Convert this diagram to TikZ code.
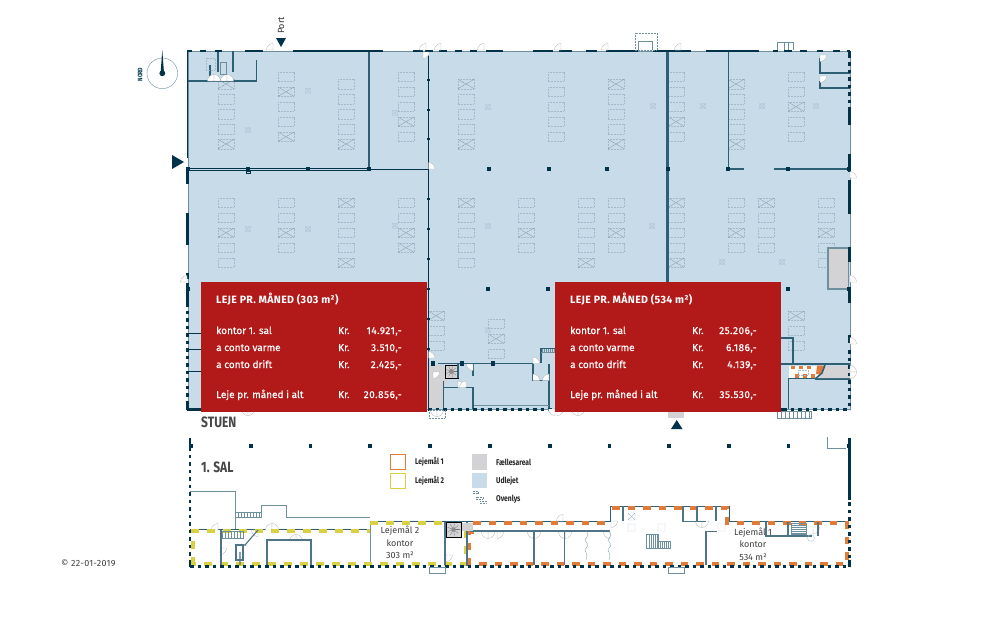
\documentclass[tikz,border=0pt]{standalone}
\usepackage{fontspec}
\setmainfont{Fira Sans}
\newfontfamily\narrowf[FakeStretch=0.8]{Fira Sans}
\definecolor{bluefill}{HTML}{C7DBE9}
\definecolor{wallc}{HTML}{003349}
\definecolor{tealc}{HTML}{2D5F75}
\definecolor{roomc}{HTML}{4F7485}
\definecolor{fixc}{HTML}{A3BBC9}
\definecolor{redbox}{HTML}{B21A1A}
\definecolor{grayfill}{HTML}{D3D3D5}
\definecolor{orangec}{HTML}{E07B3A}
\definecolor{yellowc}{HTML}{D9D043}
\definecolor{thinc}{HTML}{6E8F9E}
\tikzset{
  wall/.style={draw=wallc,line width=2.6pt},
  iwall/.style={draw=tealc,line width=1.5pt},
  rwall/.style={draw=roomc,line width=1.1pt},
  twall/.style={draw=wallc,line width=1pt},
  thin wall/.style={draw=thinc,line width=.7pt},
  dashwall/.style={draw=wallc,line width=2.4pt,dash pattern=on 3.5pt off 4pt},
  fix/.style={draw=fixc,line width=.4pt,dash pattern=on 1pt off .5pt},
  doorst/.style={draw=black!30,line width=.3pt,fill=white},
  colm/.style={fill=wallc,draw=none},
  yel/.style={draw=yellowc,line width=4pt,dash pattern=on 8pt off 8pt},
  ora/.style={draw=orangec,line width=4pt,dash pattern=on 7.5pt off 8pt},
  rowtxt/.style={text=white,anchor=base west,font=\fontsize{10}{10}\selectfont\addfontfeature{FakeBold=0.4},inner sep=0},
  rowr/.style={text=white,anchor=base east,font=\fontsize{10}{10}\selectfont\addfontfeature{FakeBold=0.4,LetterSpace=5},inner sep=0},
  headtxt/.style={text=white,anchor=base west,font=\fontsize{10.6}{10}\selectfont\bfseries\addfontfeature{LetterSpace=3},inner sep=0},
  legtxt/.style={anchor=west,text=black!85,font=\fontsize{8.4}{8}\selectfont\narrowf\bfseries,inner sep=0},
  floortxt/.style={anchor=west,text=black!72,font=\fontsize{15}{16}\selectfont\narrowf\bfseries,inner sep=0},
  roomtxt/.style={align=center,text=black!75,font=\fontsize{9}{12.6}\selectfont,inner sep=0},
}
\newcommand{\fx}[2]{\draw[fix] (#1-8,#2-4.7) rectangle (#1+8,#2+4.7);}
\newcommand{\fxc}[2]{\draw[fix,draw=fixc!80!black] (#1-8,#2-4.7) -- (#1+8,#2+4.7) (#1-8,#2+4.7) -- (#1+8,#2-4.7);}
\newcommand{\sm}[2]{\draw[fix] (#1-2.5,#2-2.5) rectangle (#1+2.5,#2+2.5) (#1-2.5,#2-2.5) -- (#1+2.5,#2+2.5) (#1-2.5,#2+2.5) -- (#1+2.5,#2-2.5);}
\newcommand{\cm}[2]{\fill[colm] (#1-1.8,#2-2.2) rectangle (#1+1.8,#2+2.2);}
% door: corner x,y, start angle (image sense: 0 right, 90 down, 180 left, 270 up), sweeps +90
\newcommand{\dr}[3]{\draw[doorst,shift={(#1,#2)}] (0,0) -- (#3:6.5) arc[start angle=#3,delta angle=90,radius=6.5] -- cycle;}
\begin{document}
\begin{tikzpicture}[x=1pt,y=-1pt]
\useasboundingbox (0,0) rectangle (1000,641);
\fill[white] (0,0) rectangle (1000,641);
% ---- ground floor ----
\fill[bluefill] (188,51) rectangle (850,409);
\draw[thin wall] (188,51) rectangle (850,409);
% light fixtures: upper
\foreach \x/\c in {286/{91.7,136.7},406/{121.7},556/{},676/{121.7},796/{106.7}}{
  \foreach \y in {76.7,91.7,106.7,121.7,136.7}{\fx{\x}{\y}}
  \foreach \y in \c {\fxc{\x}{\y}}}
\foreach \x/\c in {226/{84,144},346/{144},466/{84,144},616/{84,144},736/{84,144}}{
  \foreach \y in {84,99,114,129,144}{\fx{\x}{\y}}
  \foreach \y in \c {\fxc{\x}{\y}}}
% lower
\foreach \x/\c in {226/{232.7},346/{202.7,262.7},466/{202.7},586/{262.7},676/{202.7,262.7},826/{232.7}}{
  \foreach \y in {202.7,217.7,232.7,247.7,262.7}{\fx{\x}{\y}}
  \foreach \y in \c {\fxc{\x}{\y}}}
\foreach \x/\c in {286/{232.7},406/{232.7,247.7},526/{232.7},616/{232.7},736/{232.7},766/{202.7}}{
  \foreach \y in {202.7,217.7,232.7,247.7}{\fx{\x}{\y}}
  \foreach \y in \c {\fxc{\x}{\y}}}
% bottom
\foreach \y in {315.7,330.7,345.7}{\fx{436}{\y}\fx{796}{\y}}
\fxc{436}{315.7}\fxc{796}{315.7}
\fx{496}{323.7}\fx{496}{338.7}\fxc{496}{338.7}\fx{496}{353.7}
\foreach \x/\y in {308/90.7,248/130,395/112.7,488/107,653/106,703/106,762/106,816/106,248/229,308/229,395/225.7,488/226,652/226,722/262,782/262,488/330}{\sm{\x}{\y}}
% interior walls
\draw[draw=tealc,line width=2pt] (369,51) -- (369,169);
\draw[twall,double=bluefill,double distance=1.4pt,line width=.8pt] (188,169.5) -- (369,169.5);
\draw[twall] (369,169) -- (428,169);
\draw[draw=tealc,line width=1.3pt] (188,81) -- (256.5,81) (256.5,81) -- (256.5,60);
\draw[iwall] (233,51) -- (233,72) (218,51) -- (218,72) (210,65) -- (210,76);
\draw[twall] (428.5,55) -- (428.5,409);
\foreach \y in {80,110,139,199,229,259,289,319,349}{\fill[wallc] (427.3,\y-1) rectangle (429.7,\y+1);}
\draw[draw=tealc,line width=3pt] (667.5,51) -- (667.5,284);
\draw[iwall] (728.5,51) -- (728.5,169);
\draw[draw=tealc,line width=1.3pt] (728,169) -- (744,169) (774,169) -- (850,169);
\draw[iwall] (820,58) -- (820,73) -- (850,73) (820,81) -- (820,88) -- (850,88);
% grey core right
\draw[fill=grayfill,draw=thinc,line width=1.4pt] (828,248) rectangle (848.5,289);
% columns
\foreach \x in {188,248,308,369,489,549,607,668,728,788,849}{\cm{\x}{169}}
\foreach \x in {188,488,548,788,849}{\cm{\x}{289}}
\draw[draw=wallc,line width=.7pt] (246,171) rectangle (250,173.5);
% bottom-left core
\fill[grayfill] (429,365) rectangle (443,408);
\fill[grayfill] (443,365) -- (448,380) -- (443,388) -- cycle;
\draw[iwall] (438,363.5) -- (533,363.5);
\draw[fill=grayfill,draw=black,line width=1pt] (445,365) rectangle (458,378);
\foreach \a in {0,40,...,320}{\draw[draw=black!55,line width=.3pt] (451.5,371.5) -- +(\a:5.6);}
\draw[fill=black!45,draw=none] (451.5,371.5) circle (2.4);
\draw[iwall] (458,363.5) -- (458,378) (443,387.5) -- (473,387.5) -- (473,409) (443.5,381) -- (443.5,408) (473,363.5) -- (473,376);
\draw[iwall] (533,363.5) -- (533,380.5) -- (549,380.5) (549,363.5) -- (549,409);
\draw[thin wall] (474,405) -- (549,405);
\draw[iwall] (541,363) -- (541,348.5) -- (556,348.5);
\draw[thin wall] (541,352) -- (556,352);
\foreach \x in {542,544,546,548,550,552,554}{\draw[thin wall,line width=.3pt] (\x,349) -- (\x,352);}
\cm{433}{363.5}\cm{462}{363.5}\cm{493}{363.5}
% bottom-right
\draw[iwall] (781,338) -- (793,338) -- (793,364) (781,364) -- (850,364) (788,378.7) -- (818,378.7) (788.5,378) -- (788.5,409) (815,379) -- (850,379);
\fill[grayfill] (825,366) -- (850,366) -- (850,378) -- (815,378) -- cycle;
\fill[white] (789,365.5) rectangle (818,378);
\foreach \x in {791,799,807}{\fill[orangec] (\x,365.5) rectangle (\x+4,368.5);}
\foreach \x in {795,803,811}{\fill[orangec] (\x,374) rectangle (\x+4,378);}
\fill[orangec] (817,365.5) -- (825,365.5) -- (822,374) -- (816,374) -- cycle;
\draw[fix] (798,370) rectangle (808,375);
\draw[iwall] (825,365) -- (822,373) -- (815,379);
% outer walls
\draw[wall] (187,51) -- (192,51) (200,51) -- (206,51) (215,51) -- (222,51) (245,51) -- (263,51) (293,51) -- (383,51) (413,51) -- (423,51);
\foreach \a/\b in {425/433,439/447,455/462,470/477,486/503,533/553,559/572,586/597,606/638,653/691,706/759,773/778,784/792,800/807,817/823,833/840,847/850}{\draw[wall] (\a,51) -- (\b,51);}
\draw[draw=wallc,line width=1.6pt] (187.5,51) -- (187.5,158);
\draw[wall] (187.5,168) -- (187.5,184) (187.5,213) -- (187.5,245) (187.5,273) -- (187.5,279) (187.5,283) -- (187.5,303) (187.5,403) -- (187.5,410);
\draw[dashwall] (187.5,303) -- (187.5,403);
\draw[wall] (849.5,51) -- (849.5,58) (849.5,108) -- (849.5,125) (849.5,154) -- (849.5,172) (849.5,180) -- (849.5,214) (849.5,247) -- (849.5,262) (849.5,287) -- (849.5,303) (849.5,335) -- (849.5,343);
\draw[dashwall] (849.5,62) -- (849.5,108) (849.5,350) -- (849.5,410);
\draw[dashwall] (428,409.5) -- (783,409.5) (783,409.5) -- (850,409.5);
\draw[wall] (187,409.5) -- (201,409.5);
\foreach \y in {333,349,371}{\draw[twall] (188,\y) -- (201,\y);}
% exterior bits
\draw[fix,draw=thinc] (635,33) rectangle (657,50);
\draw[thin wall] (638,50) -- (638,41.5) -- (652,41.5) -- (652,50);
\draw[thin wall] (777,50) -- (777,42) -- (793,42) -- (793,50) (784,42) -- (784,50) (788,42) -- (788,50);
\draw[thin wall,fill=white] (777,411) rectangle (811,418);
\foreach \x in {781,785,...,809}{\draw[thin wall,line width=.3pt] (\x,411) -- (\x,418);}
\fill[grayfill] (668,410.5) rectangle (684,418);
% doors
\foreach \x in {273,426,441,484,561,608,681}{\dr{\x}{50}{180}}
\dr{423}{52}{0}\dr{248}{409}{90}\dr{248}{409}{0}\dr{555}{409}{90}\dr{557}{409}{0}\dr{578}{409}{90}\dr{578}{409}{0}
\dr{850}{178}{270}\dr{850}{282}{270}\dr{850}{344}{270}\dr{187}{282}{180}
\dr{428.5}{169}{270}\dr{428.5}{358}{270}\dr{820}{55}{0}\dr{820}{76}{0}\dr{850}{372}{270}\dr{850}{372}{0}
\dr{214}{81}{180}\dr{214}{81}{270}\dr{227}{81}{180}\dr{227}{81}{270}
\dr{533}{363.5}{270}\dr{533}{380.5}{270}\dr{549}{380.5}{180}\dr{458}{387.5}{270}\dr{466}{387.5}{180}
\dr{473}{364}{90}\dr{433}{372}{0}
\dr{437}{410}{90}\dr{437}{410}{0}
\draw[fix,draw=thinc] (429,410) rectangle (445,418);
% top-left room detail
\draw[fix] (206,58) rectangle (215,70);
\draw[thin wall] (220,62) rectangle (226,74);
% red boxes
\fill[redbox] (201,282) rectangle (427,412);
\fill[redbox] (555,282) rectangle (781,412);
\node[headtxt] (h1) at (216,303.5) {LEJE PR. MÅNED (303 m²)};
\node[rowtxt] (a1) at (216,334) {kontor 1. sal};
\node[rowtxt] (a2) at (216,351) {a conto varme};
\node[rowtxt] (a3) at (216,368) {a conto drift};
\node[rowtxt] (a4) at (216,398) {Leje pr. måned i alt};
\node[rowtxt] (k1) at (338,334) {Kr.};
\node[rowtxt] (k2) at (338,351) {Kr.};
\node[rowtxt] (k3) at (338,368) {Kr.};
\node[rowtxt] (k4) at (338,398) {Kr.};
\node[rowr] (n1) at (402,334) {14.921,-};
\node[rowr] (n2) at (402,351) {3.510,-};
\node[rowr] (n3) at (402,368) {2.425,-};
\node[rowr] (n4) at (402,398) {20.856,-};
\node[headtxt] (h2) at (570,303.5) {LEJE PR. MÅNED (534 m²)};
\node[rowtxt] (b1) at (570,334) {kontor 1. sal};
\node[rowtxt] (b2) at (570,351) {a conto varme};
\node[rowtxt] (b3) at (570,368) {a conto drift};
\node[rowtxt] (b4) at (570,398) {Leje pr. måned i alt};
\node[rowtxt] (l1) at (692,334) {Kr.};
\node[rowtxt] (l2) at (692,351) {Kr.};
\node[rowtxt] (l3) at (692,368) {Kr.};
\node[rowtxt] (l4) at (692,398) {Kr.};
\node[rowr] (m1) at (757,334) {25.206,-};
\node[rowr] (m2) at (757,351) {6.186,-};
\node[rowr] (m3) at (757,368) {4.139,-};
\node[rowr] (m4) at (757,398) {35.530,-};
% markers
\fill[wallc] (276,38) -- (286,38) -- (281,47) -- cycle;
\node[rotate=90,text=black!80,font=\fontsize{9}{9}\selectfont,inner sep=0] (port) at (281,25.5) {Port};
\fill[wallc] (172,155) -- (184,162) -- (172,169) -- cycle;
\fill[wallc] (671,429) -- (682.5,429) -- (676.7,420) -- cycle;
% compass
\draw[draw=thinc,line width=.4pt] (162.3,73.3) circle (15.3);
\fill[wallc] (162.3,50) -- (164,73) -- (160.6,73) -- cycle;
\fill[wallc] (162.3,73.3) circle (2.9);
\node[rotate=90,text=wallc,font=\fontsize{6.5}{7}\selectfont\narrowf\bfseries,inner sep=0] (nord) at (140,74.5) {NORD};
% floor labels
\node[floortxt] (st) at (201,422.5) {STUEN};
\node[floortxt] (sa) at (201,467) {1. SAL};
\node[anchor=west,text=black!75,font=\fontsize{9}{9}\selectfont\addfontfeature{LetterSpace=3},inner sep=0] (cp) at (61,563) {© 22-01-2019};
% ---- first floor ----
\foreach \x in {191,251,310.5,370,430,490,550,609.5,669,729,788.5,849}{\cm{\x}{446}}
\draw[thin wall] (827,437) -- (827,448) -- (846,448);
\draw[thin wall] (190,491) -- (235,491) -- (235,529) (235,512) rectangle (261,517) (261,517) -- (261,505) -- (286,505) -- (286,517.5) -- (370,517.5);
\foreach \x in {238,241,...,259}{\draw[thin wall,line width=.3pt] (\x,512) -- (\x,517);}
\draw[iwall,line width=1pt] (190,529) -- (370,529) -- (370,521.5) -- (610,521.5) -- (610,506) -- (729,506) -- (729,521.5) -- (849,521.5);
\draw[thin wall,line width=1pt] (370,522) -- (370,566);
% first floor doors
\foreach \x/\y/\a in {218/530/180,272/530/180,272/530/270,258/530/90,296/541/270,296/541/180,220/548/0,488/532/0,488/532/90,497/532/0,534/532/0,534/532/90,565/532/0,565/532/90,610/532/90,611/521/0,563/521/180,446/555/0,702/521/90,702/521/0,813/527/0}{\dr{\x}{\y}{\a}}
% yellow / orange dashes
\draw[yel] (193,565) -- (193,531) -- (370,531) (370,523) -- (445,523);
\draw[yel] (466,530) -- (466,563.5) -- (193,563.5);
\draw[ora] (473,523) -- (610,523) (612,508) -- (727,508) -- (727,523) -- (847,523) -- (847,563.5) -- (469,563.5) -- (469,532) -- (478,532);
% first floor rooms
\draw[rwall] (221,530) -- (221,565) (267,565) -- (267,540) -- (311,540) -- (311,565) (445,522) -- (445,565) (467,522) -- (467,566);
\draw[rwall] (240,552) -- (240,565) (245,545) -- (258,530) (238,545) -- (246,545);
\draw[rwall] (470,531) -- (610,531) (534,532) -- (534,565) (564.7,531) -- (564.7,565);
\draw[rwall] (623,506) -- (623,521) (683,506) -- (683,521.5) -- (706,521.5) (706,531) -- (706,565) (706,531.5) -- (717,531.5) (697,506) -- (697,521) (716,506) -- (716,521);
\draw[rwall] (766,522) -- (766,536) -- (788,536) -- (788,522) (818,522) -- (818,536) (788,536) -- (812,536);
\draw[fix,draw=thinc] (586,530) -- (588,535) -- (585,540) -- (588,545) -- (585,550) -- (587,555) -- (586,560);
\draw[fix,draw=thinc] (609,530) -- (611,535) -- (608,540) -- (611,545) -- (608,550) -- (610,555) -- (609,560);
\draw[fix] (628,513) rectangle (635,520) (628,524) rectangle (635,531) (628,513) -- (635,520) (628,520) -- (635,513);
\draw[fix] (658,524) rectangle (665,531) (718,524) rectangle (725,531) (811,538) circle (3.5);
\draw[thin wall] (646.7,534) rectangle (658,548) (658,541) rectangle (670,548);
\foreach \x in {649,651,...,657}{\draw[thin wall,line width=.3pt] (\x,534) -- (\x,548);}
\foreach \x in {660,662,...,668}{\draw[thin wall,line width=.3pt] (\x,541) -- (\x,548);}
\draw[thin wall] (791,523) rectangle (806,534);
\foreach \y in {525,527,...,533}{\draw[thin wall,line width=.3pt] (791,\y) -- (806,\y);}
\draw[thin wall] (222,531) rectangle (243,538);
\foreach \x in {225,228,...,241}{\draw[thin wall,line width=.3pt] (\x,531) -- (\x,538);}
\draw[rwall] (236,545) rectangle (243,560);
% spiral
\fill[grayfill] (461,522.5) -- (473,522.5) -- (473,531) -- (461,531) -- cycle;
\draw[fill=grayfill,draw=black,line width=.9pt] (446,522.5) rectangle (461,537);
\foreach \a in {0,40,...,320}{\draw[draw=black!55,line width=.3pt] (453.5,529.5) -- +(\a:6.3);}
\draw[fill=black!45,draw=none] (453.5,529.5) circle (2.2);
% first floor outer walls
\draw[wall] (190,438) -- (190,447);
\draw[dashwall] (190,447) -- (190,566);
\draw[dashwall] (190,566.5) -- (850,566.5);
\draw[wall] (849.5,438) -- (849.5,500);
\draw[dashwall] (849.5,502) -- (849.5,560);
\draw[wall] (849.5,560) -- (849.5,567);
\draw[wall] (190,560) -- (190,567);
\draw[thin wall,fill=white] (429,567.5) rectangle (445,573);
\draw[thin wall,fill=white] (668,567.5) rectangle (684,573);
% room labels
\node[roomtxt] (r2) at (400,542.5) {Lejemål 2\\kontor\\303 m²};
\node[roomtxt] (r1) at (753,544) {Lejemål 1\\kontor\\534 m²};
% legend
\draw[draw=orangec,line width=1pt] (390.5,454.5) rectangle (405,469.5);
\draw[draw=yellowc,line width=1pt] (390.5,473.5) rectangle (405,488.5);
\node[legtxt] (t1) at (415,462) {Lejemål 1};
\node[legtxt] (t2) at (415,481) {Lejemål 2};
\fill[grayfill] (472,454) rectangle (487,470);
\fill[bluefill] (472,473) rectangle (487,488);
\draw[fix,draw=thinc] (473,491) rectangle (478,493) (476,497) rectangle (483,499) (480,501) rectangle (486,503);
\node[legtxt] (t3) at (496,462) {Fællesareal};
\node[legtxt] (t4) at (496,481) {Udlejet};
\node[legtxt] (t5) at (496,499) {Ovenlys};
\end{tikzpicture}
\end{document}
